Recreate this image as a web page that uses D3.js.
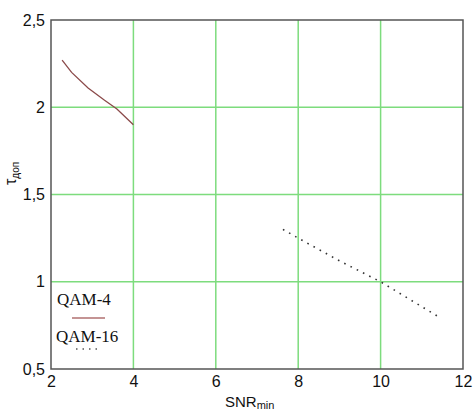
<!DOCTYPE html>
<html>
<head>
<meta charset="utf-8">
<script src="https://cdn.jsdelivr.net/npm/d3@7"></script>
<style>
  body { margin: 0; background: #fff; }
  svg { display: block; }
</style>
</head>
<body>
<div id="chart"></div>
<script>
// data
const qam4 = [[2.27, 2.27], [2.5, 2.2], [2.9, 2.11], [3.3, 2.04], [3.6, 1.99], [4.0, 1.9]];
const qam16 = [[7.63, 1.3], [8, 1.25], [9, 1.12], [10, 1.0], [11.4, 0.8]];
const xTicks = [2, 4, 6, 8, 10, 12];
const yTicks = [0.5, 1, 1.5, 2, 2.5];
const seriesNames = ["QAM-4", "QAM-16"];

const width = 473;
const height = 412;
const margin = { top: 20, right: 10, bottom: 43, left: 51 };

const svg = d3.select("#chart")
  .append("svg")
  .attr("width", width)
  .attr("height", height);

const x = d3.scaleLinear()
  .domain([2, 12])
  .range([margin.left, width - margin.right]);

const y = d3.scaleLinear()
  .domain([0.5, 2.5])
  .range([height - margin.bottom, margin.top]);

const fmt = d => String(d).replace(".", ",");

// grid
svg.append("g")
  .selectAll("line.gx")
  .data(xTicks.slice(1, -1))
  .join("line")
  .attr("x1", d => x(d)).attr("x2", d => x(d))
  .attr("y1", y(0.5)).attr("y2", y(2.5))
  .attr("stroke", "#7ddc7d")
  .attr("stroke-width", 1.5);

svg.append("g")
  .selectAll("line.gy")
  .data(yTicks.slice(1, -1))
  .join("line")
  .attr("y1", d => y(d)).attr("y2", d => y(d))
  .attr("x1", x(2)).attr("x2", x(12))
  .attr("stroke", "#7ddc7d")
  .attr("stroke-width", 1.5);

// frame
svg.append("rect")
  .attr("x", x(2)).attr("y", y(2.5))
  .attr("width", x(12) - x(2))
  .attr("height", y(0.5) - y(2.5))
  .attr("fill", "none")
  .attr("stroke", "#555")
  .attr("stroke-width", 1.5);

// axes (labels only)
const xAxis = svg.append("g")
  .attr("transform", `translate(0, ${y(0.5)})`)
  .call(d3.axisBottom(x).tickValues(xTicks).tickFormat(fmt).tickSize(0).tickPadding(7));
xAxis.select(".domain").remove();
xAxis.selectAll("text")
  .attr("font-family", "Liberation Sans, Arial, sans-serif")
  .attr("font-size", 16)
  .attr("fill", "#111");

const yAxis = svg.append("g")
  .attr("transform", `translate(${x(2)}, 0)`)
  .call(d3.axisLeft(y).tickValues(yTicks).tickFormat(fmt).tickSize(0).tickPadding(6));
yAxis.select(".domain").remove();
yAxis.selectAll("text")
  .attr("font-family", "Liberation Sans, Arial, sans-serif")
  .attr("font-size", 16)
  .attr("fill", "#111");

const line = d3.line()
  .x(d => x(d[0]))
  .y(d => y(d[1]));

svg.append("path")
  .datum(qam4)
  .attr("fill", "none")
  .attr("stroke", "#8b4a4a")
  .attr("stroke-width", 1.3)
  .attr("d", line);

svg.append("path")
  .datum(qam16)
  .attr("fill", "none")
  .attr("stroke", "#333")
  .attr("stroke-width", 1.6)
  .attr("stroke-dasharray", "1.6 5.4")
  .attr("d", line);

// legend
const leg = svg.append("g")
  .attr("font-family", "Liberation Serif, Times New Roman, serif")
  .attr("font-size", 17)
  .attr("fill", "#111");
leg.append("text").attr("x", 57).attr("y", 305).text(seriesNames[0]);
leg.append("line")
  .attr("x1", 72).attr("x2", 105).attr("y1", 318).attr("y2", 318)
  .attr("stroke", "#b07070").attr("stroke-width", 1.5);
leg.append("text").attr("x", 56).attr("y", 342).text(seriesNames[1]);
leg.append("line")
  .attr("x1", 76).attr("x2", 100).attr("y1", 349).attr("y2", 349)
  .attr("stroke", "#555").attr("stroke-width", 1.4)
  .attr("stroke-dasharray", "1.5 5");

// axis titles
svg.append("text")
  .attr("x", 225).attr("y", 407)
  .attr("font-family", "Liberation Sans, Arial, sans-serif")
  .attr("font-size", 15)
  .attr("fill", "#111")
  .text("SNR")
  .append("tspan")
  .attr("font-size", 11)
  .attr("dy", 2)
  .text("min");

svg.append("text")
  .attr("transform", "translate(16, 185) rotate(-90)")
  .attr("font-family", "Liberation Sans, Arial, sans-serif")
  .attr("font-size", 16)
  .attr("fill", "#111")
  .text("τ")
  .append("tspan")
  .attr("font-size", 10)
  .attr("dy", 3)
  .text("доп");
</script>
</body>
</html>
